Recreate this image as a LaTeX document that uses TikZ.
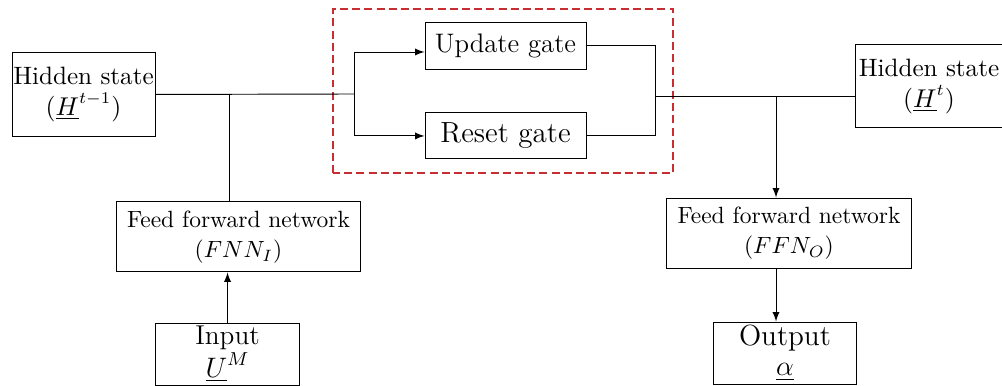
\documentclass[tikz,border=0pt]{standalone}
\usepackage{xcolor}
\usepackage{tikz}
\definecolor{gatered}{RGB}{200,45,50}

\tikzset{
    box/.style={draw, inner sep=0pt, align=center},
    state/.style={box, minimum width=2.14cm, minimum height=1.243cm, font=\fontsize{10.7}{13}\selectfont},
    gatebox/.style={box, minimum width=2.41cm, minimum height=0.689cm},
    ffn/.style={box, minimum width=3.66cm, minimum height=1.048cm, font=\fontsize{10}{13}\selectfont},
    io/.style={box, minimum width=2.15cm, minimum height=0.928cm},
    feed/.style={-latex},
}

\begin{document}
\begin{tikzpicture}
    \useasboundingbox (0,0) rectangle (15,5.778);
    % Hidden states, left and right
    \node[state] (hprev) at (1.250,4.364) {Hidden state\\$(\underline{H}^{t-1})$};
    \node[state, minimum width=2.216cm] (hnext) at (13.907,4.484) {Hidden state\\$(\underline{H}^{t})$};

    % Gates inside the dashed frame
    \node[gatebox, font=\fontsize{11.4}{13}\selectfont] (update) at (7.567,5.090) {Update gate};
    \node[gatebox, font=\fontsize{12.4}{14}\selectfont] (reset) at (7.567,3.743) {Reset gate};
    \draw[gatered, line width=0.6pt, dash pattern=on 3.4pt off 1.8pt] (4.985,3.189) rectangle (10.075,5.644);

    % Feed forward networks
    \node[ffn] (fnni) at (3.570,2.231) {Feed forward network\\$(FNN_I)$};
    \node[ffn] (ffno) at (11.811,2.290) {Feed forward network\\$(FFN_O)$};

    % Input and output
    \node[io, font=\fontsize{11.6}{10}\selectfont] (input) at (3.406,0.479) {Input\\$\underline{U}^M$};
    \node[io, font=\fontsize{12.4}{12.8}\selectfont] (output) at (11.751,0.494) {Output\\$\underline{\alpha}$};

    % Connectors
    \coordinate (split) at (5.299,4.371);
    \coordinate (tapin) at (3.428,4.371);
    \coordinate (merge) at (9.805,4.341);
    \coordinate (tapout) at (11.617,4.341);

    \draw (hprev.east) -- (split);
    \draw[feed] (split) |- ([yshift=-0.09cm]update.west);
    \draw[feed] (split) |- (reset.west);
    \draw (tapin) -- (tapin |- fnni.north);
    \draw[feed] (input.north) -- (input.north |- fnni.south);

    \draw (update.east) -| (merge);
    \draw (reset.east) -| (merge);
    \draw (merge) -- (merge -| hnext.west);
    \draw[feed] (tapout) -- (tapout |- ffno.north);
    \draw[feed] (tapout |- ffno.south) -- (tapout |- output.north);
\end{tikzpicture}
\end{document}
